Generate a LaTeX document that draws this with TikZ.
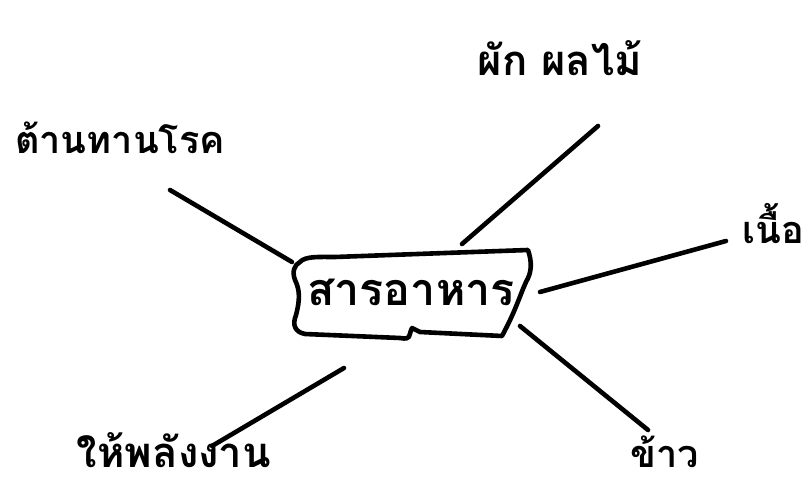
\documentclass[tikz,border=0pt]{standalone}
\usepackage{fontspec}
\newfontfamily\thaifont[Script=Thai]{Loma}
\begin{document}
\begin{tikzpicture}[x=1bp,y=-1bp,
  ink/.style={line width=4.6bp,line cap=round,line join=round,black},
  lbl/.style={font=\thaifont\bfseries\fontsize{42}{50}\selectfont,inner sep=0pt,anchor=center}]
\useasboundingbox (0,0) rectangle (805,500);
% labels
\node[lbl,font=\thaifont\bfseries\fontsize{45}{52}\selectfont] (main) at (411,292) {สารอาหาร};
\node[lbl,font=\thaifont\bfseries\fontsize{38}{46}\selectfont] (t1) at (120,138) {ต้านทานโรค};
\node[lbl] (t2) at (560,58) {ผัก ผลไม้};
\node[lbl,anchor=east,font=\thaifont\bfseries\fontsize{38}{46}\selectfont] (t3) at (804,224) {เนื้อ};
\node[lbl,font=\thaifont\bfseries\fontsize{38}{46}\selectfont] (t4) at (665,452) {ข้าว};
\node[lbl] (t5) at (174,450) {ให้พลังงาน};
% box
\draw[ink] (300,262) .. controls (305,256) and (320,257) .. (335,257)
  -- (528,250) .. controls (532,262) and (532,272) .. (526,282)
  .. controls (520,295) and (516,310) .. (502,336)
  -- (420,332) -- (412,328) .. controls (408,336) and (412,340) .. (400,338)
  -- (305,334) .. controls (295,332) and (292,325) .. (296,315)
  .. controls (300,300) and (300,290) .. (295,280)
  .. controls (292,272) and (294,265) .. (300,262);
% connectors
\coordinate (a1) at (170,190); \coordinate (b1) at (292,262);
\coordinate (a2) at (598,126); \coordinate (b2) at (462,244);
\coordinate (a3) at (726,241); \coordinate (b3) at (540,292);
\coordinate (a4) at (648,430); \coordinate (b4) at (520,326);
\coordinate (a5) at (212,446); \coordinate (b5) at (344,368);
\draw[ink] (a1) -- (b1);
\draw[ink] (a2) -- (b2);
\draw[ink] (a3) -- (b3);
\draw[ink] (a4) -- (b4);
\draw[ink] (a5) -- (b5);
\end{tikzpicture}
\end{document}
